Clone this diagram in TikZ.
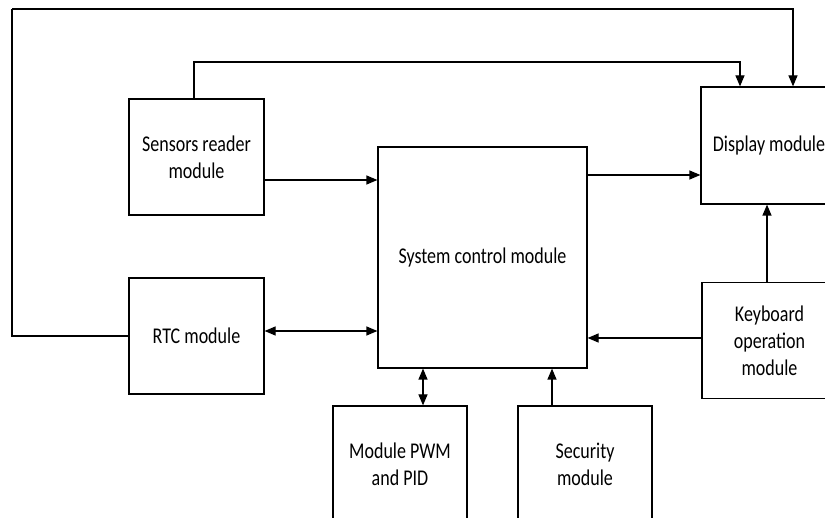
\documentclass[tikz,border=0pt]{standalone}
\usepackage{fontspec}
\setmainfont{Carlito}[FakeStretch=0.8]
\usetikzlibrary{arrows.meta}
\tikzset{
  block/.style={draw=black, line width=1.2pt, rectangle, inner sep=0pt,
    minimum width=135pt, minimum height=116pt, align=center,
    font=\fontsize{22.5}{27}\selectfont},
  flow/.style={draw=black, line width=1.2pt,
    -{Triangle[length=11pt,width=9pt]}},
  both/.style={draw=black, line width=1.2pt,
    {Triangle[length=11pt,width=9pt]}-{Triangle[length=11pt,width=9pt]}},
  wire/.style={draw=black, line width=1.2pt}
}
\begin{document}
\begin{tikzpicture}[x=1pt,y=-1pt]
  \useasboundingbox (0,0) rectangle (825,518);
  \clip (0,0) rectangle (825,518);

  % module blocks
  \node[block] (sensors) at (196.5,157) {Sensors reader\\module};
  \node[block, minimum width=209pt, minimum height=221pt] (system) at (482.5,257.5) {System control module};
  \node[block, minimum width=136pt, minimum height=117pt] (display) at (769,145.5) {Display module};
  \node[block] (rtc) at (196.5,336) {RTC module};
  \node[block] (keyboard) at (769.5,340.5) {Keyboard\\operation\\module};
  \node[block, minimum width=134pt] (pwm) at (400,464) {Module PWM\\and PID};
  \node[block, minimum width=134pt] (security) at (585,464) {Security\\module};

  % routing corners
  \coordinate (loopL) at (12,336);
  \coordinate (loopT) at (12,9);
  \coordinate (senT) at (194,62);

  % connectors
  \draw[flow] (sensors.north -| senT) -- (senT) -| (display.north -| 740,0);
  \draw[wire] (rtc.west) -- (loopL) -- (loopT);
  \draw[flow] (loopT) -| (display.north -| 793,0);
  \draw[flow] (sensors.east |- 0,180) -- (system.west |- 0,180);
  \draw[flow] (system.east |- 0,175) -- (display.west |- 0,175);
  \draw[both] (rtc.east |- 0,331) -- (system.west |- 0,331);
  \draw[flow] (keyboard.west |- 0,338) -- (system.east |- 0,338);
  \draw[flow] (keyboard.north -| 767,0) -- (display.south -| 767,0);
  \draw[both] (pwm.north -| 423,0) -- (system.south -| 423,0);
  \draw[flow] (security.north -| 552,0) -- (system.south -| 552,0);
\end{tikzpicture}
\end{document}
